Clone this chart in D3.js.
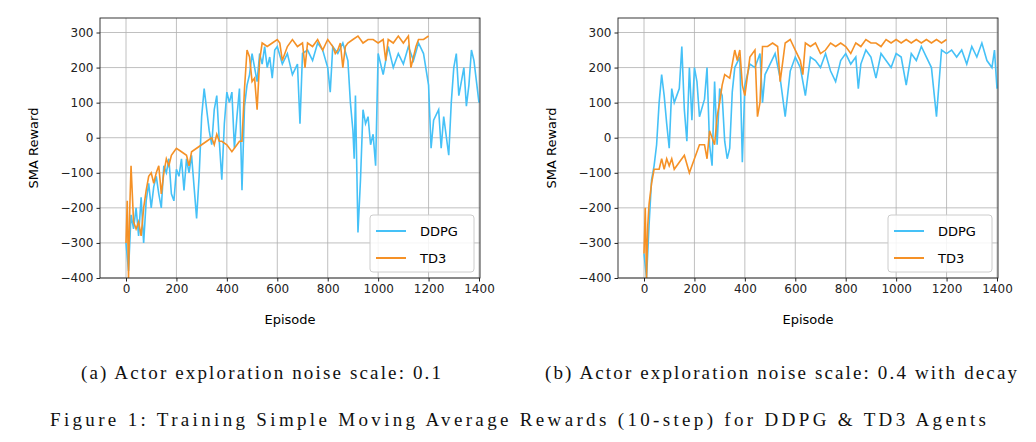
<!DOCTYPE html>
<head>
<meta charset="utf-8">
<style>
body { margin: 0; background: #fff; }
.grid line { stroke: #b0b0b0; stroke-width: 0.8; }
.tick text { font-family: "DejaVu Sans"; font-size: 12px; fill: #222; }
.caption { font-family: "Liberation Serif", serif; font-size: 19px; fill: #111; }
</style>
</head>
<body>
<svg id="fig" width="1036" height="442"></svg>
<script src="https://d3js.org/d3.v7.min.js"></script>
<script>
const xTicks = [0, 200, 400, 600, 800, 1000, 1200, 1400];
const yTicks = [-400, -300, -200, -100, 0, 100, 200, 300];
const seriesNames = ["DDPG", "TD3"];
const seriesColors = ["#45c1f7", "#f59126"];

const ddpgA = [[0,-300],[10,-380],[20,-220],[30,-260],[40,-200],[50,-280],[60,-170],[70,-300],[80,-180],[90,-130],[100,-200],[110,-140],[120,-110],[130,-160],[140,-200],[150,-80],[160,-100],[170,-60],[180,-160],[190,-180],[200,-90],[210,-110],[220,-60],[230,-150],[240,-60],[250,-100],[260,-50],[270,-140],[280,-230],[290,-110],[300,60],[310,140],[320,80],[330,20],[340,-20],[350,80],[360,120],[370,-10],[380,-120],[390,40],[400,130],[410,100],[420,130],[430,-30],[440,60],[450,140],[460,-150],[470,90],[480,150],[490,180],[500,240],[510,200],[520,160],[530,240],[540,210],[550,260],[560,200],[570,230],[580,170],[590,250],[600,260],[620,210],[640,240],[660,180],[680,210],[690,40],[700,240],[720,250],[740,220],[760,270],[780,250],[800,200],[810,130],[820,260],[840,240],[860,270],[880,220],[890,100],[900,20],[905,-60],[910,120],[920,-270],[930,-120],[940,80],[950,40],[960,60],[970,-20],[980,10],[990,-80],[1000,240],[1020,180],[1040,260],[1060,200],[1080,240],[1100,210],[1120,260],[1140,220],[1160,270],[1180,240],[1200,150],[1210,-30],[1220,50],[1240,80],[1250,-30],[1260,60],[1280,-50],[1290,100],[1300,200],[1310,240],[1320,120],[1340,200],[1350,90],[1360,150],[1370,250],[1380,220],[1400,100]];
const td3A = [[0,-300],[5,-180],[10,-400],[15,-200],[20,-80],[30,-240],[40,-260],[50,-240],[60,-280],[70,-200],[80,-150],[90,-110],[100,-100],[110,-130],[120,-100],[130,-80],[140,-160],[150,-100],[160,-60],[170,-80],[180,-50],[190,-40],[200,-30],[220,-40],[240,-50],[250,-80],[260,-40],[280,-30],[300,-20],[320,-10],[340,0],[350,-20],[360,10],[370,-10],[380,-10],[400,-20],[420,-40],[440,-20],[450,-10],[460,-10],[470,140],[480,250],[490,230],[500,160],[510,170],[520,80],[530,220],[540,270],[560,260],[580,270],[600,280],[610,270],[620,220],[640,260],[660,280],[680,260],[700,270],[710,200],[720,270],[740,260],[760,280],[780,250],[800,280],[820,260],[830,240],[840,250],[850,270],[860,200],[870,260],[880,270],[900,280],[920,290],[940,270],[960,280],[980,280],[1000,270],[1020,280],[1030,220],[1040,280],[1060,270],[1080,290],[1100,270],[1120,290],[1130,200],[1150,260],[1160,280],[1180,280],[1200,290]];
const ddpgB = [[0,-330],[10,-400],[20,-250],[30,-120],[40,-80],[50,-20],[60,100],[70,180],[80,120],[90,40],[100,-30],[110,140],[120,100],[130,120],[140,140],[150,260],[160,80],[170,-10],[180,200],[190,50],[200,200],[210,160],[220,60],[240,110],[250,200],[260,-20],[270,-80],[280,160],[290,-20],[300,140],[310,120],[320,-10],[330,-60],[340,-30],[350,130],[360,200],[380,230],[390,-70],[400,150],[420,210],[440,200],[460,240],[470,100],[480,180],[500,210],[520,240],[540,170],[560,60],[580,190],[600,230],[620,200],[640,120],[660,230],[680,220],[700,200],[720,240],[740,190],[760,160],[780,220],[800,240],[820,210],[840,230],[850,140],[860,210],[880,250],[900,230],[920,170],[940,240],[960,220],[980,200],[1000,240],[1020,230],[1040,150],[1060,240],[1080,220],[1100,260],[1120,230],[1140,200],[1160,60],[1180,250],[1200,240],[1220,250],[1240,230],[1260,250],[1280,210],[1300,260],[1320,230],[1340,270],[1360,220],[1380,200],[1390,250],[1400,140]];
const td3B = [[0,-330],[5,-200],[10,-400],[15,-250],[20,-190],[30,-130],[40,-90],[60,-90],[70,-60],[80,-90],[90,-60],[100,-80],[110,-60],[120,-90],[140,-70],[160,-50],[180,-100],[200,-60],[220,-20],[240,-20],[250,-60],[260,20],[280,-20],[290,60],[300,100],[310,150],[320,180],[340,170],[360,250],[370,220],[380,250],[390,150],[400,120],[420,230],[440,250],[450,60],[460,100],[470,260],[490,260],[510,270],[530,260],[540,160],[560,270],[580,280],[600,250],[620,220],[630,180],[640,270],[660,260],[680,270],[700,240],[720,250],[740,270],[760,260],[780,270],[800,260],[820,240],[840,270],[860,260],[880,280],[900,270],[920,270],[940,260],[960,280],[980,270],[1000,280],[1020,270],[1040,280],[1060,270],[1080,280],[1100,270],[1120,280],[1140,270],[1160,280],[1180,270],[1200,280]];

const svg = d3.select("#fig");

function drawPanel(left, zeroX, series, caption, captionX, captionW) {
    const top = 18, bottom = 278, right = zeroX + 354;
    const xScale = d3.scaleLinear().domain([0, 1400]).range([zeroX, zeroX + 353]);
    const yScale = d3.scaleLinear().domain([-400, 300]).range([278, 32.5]);
    const g = svg.append("g");

    g.append("g").attr("class", "grid").selectAll("line").data(xTicks).join("line")
        .attr("x1", d => xScale(d)).attr("x2", d => xScale(d)).attr("y1", top).attr("y2", bottom);
    g.append("g").attr("class", "grid").selectAll("line").data(yTicks).join("line")
        .attr("x1", left).attr("x2", right).attr("y1", d => yScale(d)).attr("y2", d => yScale(d));

    const line = d3.line().x(d => xScale(d[0])).y(d => yScale(d[1]));
    g.append("clipPath").attr("id", "clip" + left).append("rect")
        .attr("x", left).attr("y", top).attr("width", right - left).attr("height", bottom - top);
    series.forEach((s, i) => {
        g.append("path").datum(s).attr("d", line).attr("fill", "none")
            .attr("clip-path", "url(#clip" + left + ")")
            .attr("stroke", seriesColors[i]).attr("stroke-width", 1.6);
    });

    g.append("g").attr("transform", "translate(0," + bottom + ")")
        .call(d3.axisBottom(xScale).tickValues(xTicks).tickSize(3.5).tickPadding(3).tickFormat(d3.format("d")))
        .call(a => a.select(".domain").remove());
    g.append("g").attr("transform", "translate(" + left + ",0)")
        .call(d3.axisLeft(yScale).tickValues(yTicks).tickSize(3.5).tickPadding(3).tickFormat(d => d < 0 ? "\u2212" + (-d) : d))
        .call(a => a.select(".domain").remove());
    g.selectAll(".tick line").attr("stroke", "#222");

    g.append("rect").attr("x", left).attr("y", top).attr("width", right - left).attr("height", bottom - top)
        .attr("fill", "none").attr("stroke", "#222").attr("stroke-width", 0.9);

    g.append("text").attr("x", (left + right) / 2).attr("y", 324).attr("text-anchor", "middle")
        .style("font-family", "DejaVu Sans").style("font-size", "13px").text("Episode");
    g.append("text").attr("transform", "translate(" + (left - 62) + "," + ((top + bottom) / 2) + ") rotate(-90)")
        .attr("text-anchor", "middle").style("font-family", "DejaVu Sans").style("font-size", "13px").text("SMA Reward");

    const lg = g.append("g").attr("transform", "translate(" + (right - 110) + ",215)");
    lg.append("rect").attr("width", 104).attr("height", 57).attr("rx", 3)
        .attr("fill", "#fff").attr("fill-opacity", 0.85).attr("stroke", "#ccc");
    seriesNames.forEach((n, i) => {
        lg.append("line").attr("x1", 6).attr("x2", 36).attr("y1", 16 + i * 27).attr("y2", 16 + i * 27)
            .attr("stroke", seriesColors[i]).attr("stroke-width", 2);
        lg.append("text").attr("x", 50).attr("y", 21 + i * 27)
            .style("font-family", "DejaVu Sans").style("font-size", "13px").text(n);
    });

    svg.append("text").attr("class", "caption").attr("x", captionX).attr("y", 379)
        .attr("text-anchor", "middle").attr("textLength", captionW).attr("lengthAdjust", "spacing").text(caption);
}

drawPanel(100, 126, [ddpgA, td3A], "(a) Actor exploration noise scale: 0.1", 261, 360);
drawPanel(618, 644, [ddpgB, td3B], "(b) Actor exploration noise scale: 0.4 with decay", 781, 472);

svg.append("text").attr("class", "caption").attr("x", 518).attr("y", 426)
    .attr("text-anchor", "middle").attr("textLength", 936).attr("lengthAdjust", "spacing")
    .text("Figure 1: Training Simple Moving Average Rewards (10-step) for DDPG & TD3 Agents");
</script>
</body>
